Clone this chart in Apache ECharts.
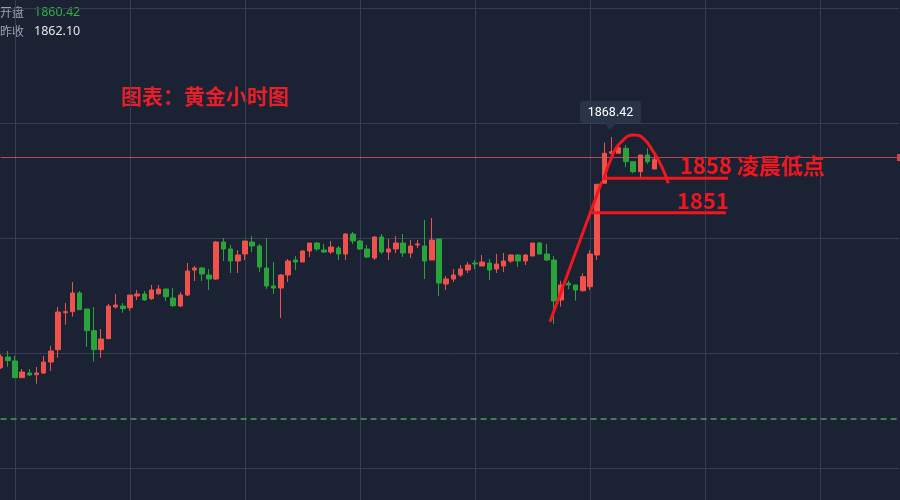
<!DOCTYPE html>
<html><head><meta charset="utf-8">
<script src="https://cdn.jsdelivr.net/npm/echarts@6/dist/echarts.min.js"></script>
<style>html,body{margin:0;padding:0;background:#1b2233;}#c{width:900px;height:500px;}</style>
</head><body><div id="c"></div>
<script>
// ---- data (hourly gold candles) ----
const opens  = [1810.75,1813.42,1812.42,1808.25,1809.42,1809.00,1809.42,1812.17,1815.25,1824.50,
                1824.75,1829.42,1825.42,1820.00,1815.25,1818.00,1825.92,1826.17,1825.75,1828.67,
                1829.17,1828.00,1829.25,1830.42,1828.17,1826.17,1828.92,1835.17,1835.67,1833.92,
                1832.92,1842.17,1840.42,1837.42,1839.17,1842.17,1841.17,1835.67,1831.17,1830.67,
                1833.92,1837.67,1837.17,1839.92,1841.92,1840.17,1839.67,1840.67,1839.17,1844.17,
                1842.42,1840.42,1838.17,1843.42,1839.67,1840.42,1841.92,1839.42,1841.42,1841.17,
                1837.67,1842.92,1831.67,1832.92,1833.92,1835.17,1836.92,1836.17,1836.92,1835.42,
                1836.17,1837.42,1838.92,1837.42,1838.67,1841.92,1839.17,1837.67,1827.67,1831.85,
                1831.42,1829.99,1831.00,1838.92,1856.85,1864.35,1864.35,1865.60,1862.25,1859.75,
                1863.92,1860.42];
const closes = [1813.50,1812.50,1808.25,1809.67,1808.92,1809.42,1812.17,1814.92,1824.67,1824.75,
                1829.42,1825.25,1820.00,1815.25,1817.92,1826.17,1826.42,1825.50,1828.92,1829.17,
                1827.67,1830.17,1830.42,1828.50,1826.25,1828.92,1834.92,1835.67,1834.17,1832.92,
                1842.17,1840.42,1837.42,1838.92,1842.42,1841.17,1835.92,1831.17,1830.67,1833.92,
                1837.42,1837.17,1839.92,1841.92,1840.42,1839.67,1840.92,1839.17,1844.17,1842.42,
                1840.42,1838.42,1843.42,1839.67,1840.42,1841.92,1839.42,1841.17,1841.67,1837.42,
                1842.67,1831.92,1832.92,1833.92,1835.42,1836.42,1836.67,1837.17,1835.17,1836.67,
                1837.42,1838.92,1837.42,1838.92,1841.92,1839.17,1837.67,1827.42,1831.42,1831.42,
                1830.17,1833.50,1839.17,1856.60,1864.35,1864.75,1865.75,1862.25,1859.75,1863.92,
                1862.25,1862.85];
const lows   = [1810.42,1811.00,1808.20,1808.20,1808.75,1806.75,1809.17,1809.92,1813.25,1821.50,
                1823.50,1825.25,1816.00,1812.25,1813.25,1818.00,1825.50,1824.50,1825.00,1827.67,
                1827.42,1827.67,1828.92,1827.42,1825.92,1825.92,1828.67,1832.42,1832.42,1830.17,
                1832.67,1837.42,1834.42,1834.42,1837.67,1839.67,1834.67,1830.42,1829.17,1823.17,
                1832.17,1835.17,1837.17,1838.42,1839.92,1839.42,1839.17,1837.67,1837.67,1841.67,
                1840.17,1838.17,1837.67,1839.17,1837.67,1839.42,1838.42,1838.17,1840.67,1832.92,
                1837.67,1828.67,1830.17,1832.17,1833.42,1834.42,1835.42,1836.17,1832.67,1834.42,
                1834.67,1836.92,1835.92,1836.42,1838.67,1839.17,1837.42,1821.67,1826.00,1830.35,
                1827.50,1829.75,1830.17,1837.67,1856.85,1863.50,1864.35,1860.85,1859.35,1858.35,
                1861.67,1860.42];
const highs  = [1814.09,1814.92,1813.67,1810.42,1810.42,1810.92,1813.67,1816.17,1825.92,1826.92,
                1832.17,1829.92,1825.42,1825.92,1820.42,1826.67,1829.17,1826.92,1828.92,1830.17,
                1829.92,1831.42,1831.42,1830.42,1830.67,1829.67,1836.92,1836.17,1835.92,1835.42,
                1842.42,1843.17,1841.42,1840.17,1842.42,1843.67,1841.67,1843.17,1837.17,1834.17,
                1837.92,1838.67,1840.17,1841.92,1842.17,1841.67,1842.42,1841.17,1844.42,1844.67,
                1842.67,1841.42,1843.67,1844.17,1842.92,1843.67,1844.17,1842.67,1842.67,1847.67,
                1848.17,1842.92,1833.67,1835.42,1836.42,1837.17,1837.67,1838.92,1837.92,1839.17,
                1839.42,1839.17,1839.17,1839.17,1841.92,1842.17,1841.67,1838.67,1832.50,1832.50,
                1831.42,1834.35,1840.17,1856.60,1867.00,1868.42,1866.42,1866.42,1862.25,1863.92,
                1865.60,1863.92];
const slotCount = 126;                 // hourly slots across the visible window
const openPrice = '1860.42';
const prevClose = '1862.10';
const lastPriceLevel = 1863.42;
const dashedLevel = 1797.92;
// hand-drawn annotation strokes: [slot, price]
const trendStroke = [[76.43,1822.25],[83.63,1857.25]];
const arcStroke = [[83.85,1857.67],[85.24,1864.35],[86.17,1866.85],[88.03,1868.92],[89.42,1868.10],[90.81,1864.75],[91.98,1861.0],[92.90,1856.85]];
const low1858Stroke = [[83.8,1858.1],[101.2,1858.1]];
const line1851Stroke = [[82.0,1849.5],[100.9,1849.5]];

const categories = [];
for (let i = 0; i < slotCount; i++) categories.push('H' + i);
const candleData = opens.map((o, i) => [o, closes[i], lows[i], highs[i]]);
const maxHigh = Math.max.apply(null, highs).toFixed(2);

const RED = '#ef514b', GREEN = '#29a43b', GRID = '#363e50', ANN = '#f2161f';
const chart = echarts.init(document.getElementById('c'));
function annLine(data, smooth) {
  return { type: 'line', xAxisIndex: 2, yAxisIndex: 0, data: data, symbol: 'none', smooth: smooth || false,
           clip: false, silent: true, z: 5, lineStyle: { color: ANN, width: 3 } };
}
chart.setOption({
  backgroundColor: '#1b2233',
  animation: false,
  grid: [
    { left: 0.625, right: 0.94, top: 8, bottom: 32 },
    { left: 15, right: 0, top: 0, bottom: 0 }
  ],
  xAxis: [
    { type: 'category', gridIndex: 0, data: categories, boundaryGap: false, show: false },
    { type: 'value', gridIndex: 1, min: 0, max: 885 / 115, interval: 1,
      axisLine: { show: false }, axisTick: { show: false }, axisLabel: { show: false },
      splitLine: { show: true, showMaxLine: false, lineStyle: { color: GRID, width: 1 } } },
    { type: 'value', gridIndex: 0, min: 0, max: slotCount - 1, show: false }
  ],
  yAxis: [
    { type: 'value', gridIndex: 0, min: 1785.67, max: 1900.67, interval: 28.75,
      axisLine: { show: false }, axisTick: { show: false }, axisLabel: { show: false },
      splitLine: { show: true, lineStyle: { color: GRID, width: 1 } } },
    { type: 'value', gridIndex: 1, show: false }
  ],
  series: [
    {
      type: 'candlestick', xAxisIndex: 0, yAxisIndex: 0, data: candleData,
      barWidth: 5, clip: false,
      itemStyle: { color: RED, color0: GREEN, borderColor: RED, borderColor0: GREEN, borderWidth: 1 },
      markLine: {
        silent: true, symbol: ['none', 'none'], label: { show: false },
        data: [
          { yAxis: lastPriceLevel, lineStyle: { color: 'rgba(220,84,92,0.8)', width: 1, type: 'solid' } },
          { yAxis: dashedLevel, lineStyle: { color: '#4f9d5c', width: 1.5, type: [6, 4] } }
        ]
      }
    },
    annLine(trendStroke),
    annLine(arcStroke, 0.5),
    annLine(low1858Stroke),
    annLine(line1851Stroke)
  ],
  graphic: [
    { type: 'text', x: 0, y: 12, style: { text: '开盘', fill: '#9ea3ad', font: '12px "Noto Sans CJK SC"', verticalAlign: 'middle' } },
    { type: 'text', x: 34, y: 12, style: { text: openPrice, fill: '#30b443', font: '12.5px "Noto Sans"', verticalAlign: 'middle' } },
    { type: 'text', x: 0, y: 31.5, style: { text: '昨收', fill: '#9ea3ad', font: '12px "Noto Sans CJK SC"', verticalAlign: 'middle' } },
    { type: 'text', x: 34, y: 31.5, style: { text: prevClose, fill: '#e8e8ea', font: '12.5px "Noto Sans"', verticalAlign: 'middle' } },
    { type: 'text', x: 121, y: 96, style: { text: '图表：黄金小时图', fill: '#e61f29', font: 'bold 21px "Noto Sans CJK SC"', verticalAlign: 'middle' } },
    { type: 'text', x: 680, y: 165.5, z: 10, style: { text: '1858 凌晨低点', fill: ANN, font: 'bold 22px "Noto Sans CJK SC"', verticalAlign: 'middle' } },
    { type: 'text', x: 677, y: 200.5, z: 10, style: { text: '1851', fill: ANN, font: 'bold 22px "Noto Sans CJK SC"', verticalAlign: 'middle' } },
    { type: 'rect', z: 10, shape: { x: 580, y: 101, width: 61, height: 22, r: 3 }, style: { fill: '#2a3447' } },
    { type: 'polygon', z: 10, shape: { points: [[604, 123], [616, 123], [610, 130]] }, style: { fill: '#2a3447' } },
    { type: 'text', x: 610.5, y: 112.5, z: 11, style: { text: maxHigh, fill: '#ffffff', font: '12.5px Roboto', align: 'center', verticalAlign: 'middle' } },
    { type: 'rect', z: 10, shape: { x: 897, y: 154, width: 3, height: 7 }, style: { fill: '#c8464e' } }
  ]
});
</script></body></html>
